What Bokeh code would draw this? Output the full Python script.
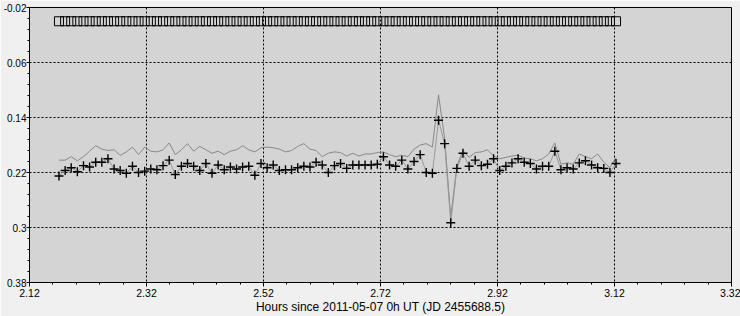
from bokeh.plotting import figure
from bokeh.models import Range1d, FixedTicker
from bokeh.embed import file_html
from bokeh.resources import INLINE

hours = [2.1704, 2.1809, 2.1913, 2.2018, 2.2123, 2.2227, 2.2332, 2.2436, 2.2541, 2.2646,
         2.2750, 2.2855, 2.2960, 2.3064, 2.3169, 2.3274, 2.3378, 2.3483, 2.3588, 2.3692,
         2.3797, 2.3901, 2.4006, 2.4111, 2.4215, 2.4320, 2.4425, 2.4529, 2.4634, 2.4739,
         2.4843, 2.4948, 2.5052, 2.5157, 2.5262, 2.5366, 2.5471, 2.5576, 2.5680, 2.5785,
         2.5890, 2.5994, 2.6099, 2.6204, 2.6308, 2.6413, 2.6517, 2.6622, 2.6727, 2.6831,
         2.6936, 2.7041, 2.7145, 2.7250, 2.7355, 2.7459, 2.7564, 2.7668, 2.7773, 2.7878,
         2.7982, 2.8087, 2.8192, 2.8296, 2.8401, 2.8506, 2.8610, 2.8715, 2.8819, 2.8924,
         2.9029, 2.9133, 2.9238, 2.9343, 2.9447, 2.9552, 2.9657, 2.9761, 2.9866, 2.9970,
         3.0075, 3.0180, 3.0284, 3.0389, 3.0494, 3.0598, 3.0703, 3.0808, 3.0912, 3.1017,
         3.1122, 3.1226]

var_mag = [0.225, 0.217, 0.213, 0.219, 0.210, 0.212, 0.205, 0.205, 0.200, 0.215,
           0.217, 0.221, 0.211, 0.220, 0.218, 0.215, 0.216, 0.210, 0.202, 0.223,
           0.211, 0.207, 0.211, 0.217, 0.207, 0.221, 0.209, 0.216, 0.212, 0.215,
           0.212, 0.211, 0.224, 0.207, 0.213, 0.209, 0.217, 0.216, 0.216, 0.213,
           0.211, 0.212, 0.205, 0.209, 0.220, 0.210, 0.207, 0.214, 0.209, 0.209,
           0.209, 0.209, 0.208, 0.197, 0.209, 0.211, 0.202, 0.215, 0.204, 0.194,
           0.220, 0.221, 0.144, 0.178, 0.293, 0.214, 0.192, 0.211, 0.202, 0.210,
           0.208, 0.200, 0.217, 0.211, 0.206, 0.200, 0.205, 0.207, 0.215, 0.211,
           0.211, 0.189, 0.216, 0.213, 0.215, 0.206, 0.203, 0.209, 0.213, 0.214,
           0.220, 0.207]

check_mag = [0.202, 0.202, 0.197, 0.203, 0.197, 0.189, 0.181, 0.186, 0.188, 0.187,
             0.195, 0.190, 0.183, 0.194, 0.183, 0.189, 0.190, 0.187, 0.177, 0.194,
             0.187, 0.178, 0.189, 0.182, 0.187, 0.192, 0.189, 0.194, 0.189, 0.187,
             0.181, 0.187, 0.190, 0.184, 0.183, 0.184, 0.186, 0.190, 0.188, 0.182,
             0.178, 0.186, 0.188, 0.197, 0.192, 0.190, 0.191, 0.196, 0.192, 0.196,
             0.193, 0.193, 0.191, 0.190, 0.194, 0.197, 0.195, 0.197, 0.186, 0.180,
             0.178, 0.183, 0.107, 0.170, 0.285, 0.210, 0.188, 0.198, 0.191, 0.190,
             0.187, 0.196, 0.200, 0.198, 0.196, 0.195, 0.199, 0.200, 0.203, 0.200,
             0.193, 0.177, 0.208, 0.206, 0.208, 0.193, 0.197, 0.200, 0.193, 0.205,
             0.213, 0.198]

comp_mag = [0.0] * len(hours)

x_ticks = [2.12, 2.32, 2.52, 2.72, 2.92, 3.12, 3.32]
x_tick_labels = ["2.12", "2.32", "2.52", "2.72", "2.92", "3.12", "3.32"]
y_ticks = [-0.02, 0.06, 0.14, 0.22, 0.3, 0.38]
y_tick_labels = ["-0.02", "0.06", "0.14", "0.22", "0.3", "0.38"]
x_label = "Hours since 2011-05-07 0h UT (JD 2455688.5)"

FONT = "Liberation Sans"

p = figure(width=740, height=316, output_backend="svg", toolbar_location=None,
           x_range=Range1d(2.12, 3.32), y_range=Range1d(0.38, -0.02),
           min_border_left=28, min_border_right=9, min_border_top=7, min_border_bottom=34)

p.background_fill_color = "#d4d4d4"
p.border_fill_color = "#f0f0f0"
p.outline_line_color = "#000000"
p.outline_line_width = 1

x_minor = [round(2.12 + 0.04 * k, 2) for k in range(31)]
y_minor = [round(-0.02 + 0.016 * k, 3) for k in range(26)]
p.xaxis.ticker = FixedTicker(ticks=x_ticks, minor_ticks=x_minor)
p.yaxis.ticker = FixedTicker(ticks=y_ticks, minor_ticks=y_minor)
p.xaxis.major_label_overrides = dict(zip(x_ticks, x_tick_labels))
p.yaxis.major_label_overrides = dict(zip(y_ticks, y_tick_labels))

for ax in (p.xaxis[0], p.yaxis[0]):
    ax.axis_line_color = "#000000"
    ax.axis_line_width = 1
    ax.major_tick_line_color = "#000000"
    ax.minor_tick_line_color = "#000000"
    ax.major_tick_in = 0
    ax.major_tick_out = 3
    ax.minor_tick_in = 0
    ax.minor_tick_out = 2
    ax.major_label_text_font = FONT
    ax.major_label_text_font_size = "10px"
    ax.major_label_text_color = "#000000"
    ax.major_label_standoff = 0

p.xaxis.major_tick_out = 4
p.xaxis.major_label_standoff = 2
p.xaxis.major_label_text_font_size = "10.5px"

p.xaxis.axis_label = x_label
p.xaxis.axis_label_text_font = FONT
p.xaxis.axis_label_text_font_size = "12px"
p.xaxis.axis_label_text_font_style = "normal"
p.xaxis.axis_label_text_color = "#000000"
p.xaxis.axis_label_standoff = 0

p.xgrid.ticker = FixedTicker(ticks=x_ticks)
p.ygrid.ticker = FixedTicker(ticks=y_ticks)
for g in (p.xgrid[0], p.ygrid[0]):
    g.grid_line_color = "#000000"
    g.grid_line_dash = "2 2"
    g.grid_line_width = 1

p.line(hours, check_mag, line_color="#888888", line_width=1)
p.line(hours, var_mag, line_color="#999999", line_width=1)
p.scatter(hours, var_mag, marker="cross", size=9, line_color="#000000", line_width=1.4)
p.scatter(hours, comp_mag, marker="square", size=9, line_color="#000000",
          fill_color=None, line_width=1)

open("out.html", "w").write(file_html(p, INLINE))
